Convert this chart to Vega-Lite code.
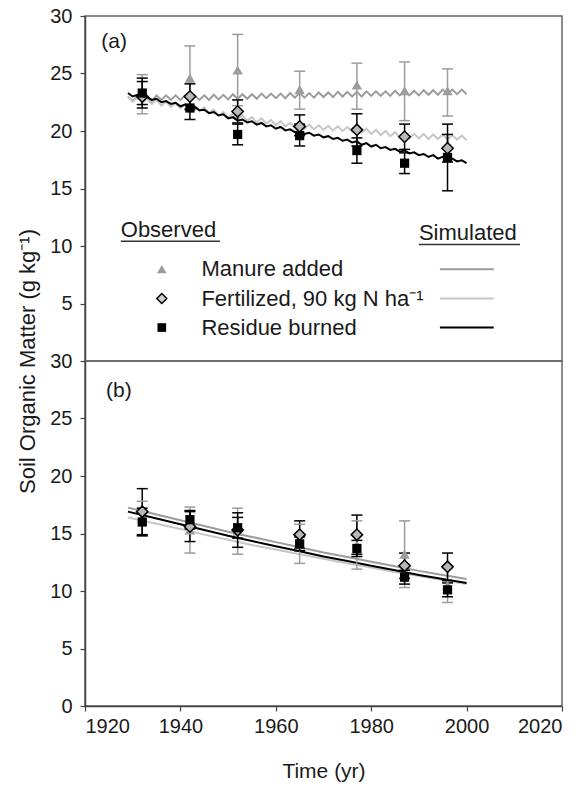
{
"$schema": "https://vega.github.io/schema/vega-lite/v6.json",
"background": "white",
"padding": {"left": 15, "top": 5, "right": 5, "bottom": 5},
"bounds": "flush",
"spacing": 0,
"config": {
  "font": "Liberation Sans",
  "view": {"stroke": "#666666", "strokeWidth": 1.5},
  "axis": {"labelFont": "Liberation Sans", "titleFont": "Liberation Sans", "labelFontSize": 20, "titleFontSize": 21, "titleFontWeight": "normal", "labelColor": "#1a1a1a", "titleColor": "#1a1a1a", "domainColor": "#444444", "tickColor": "#444444", "domainWidth": 1.5, "tickWidth": 1.2, "tickSize": 5, "grid": false, "labelPadding": 5},
  "axisLeft": {"labelPadding": 8},
  "text": {"font": "Liberation Sans", "color": "#1a1a1a"}
},
"datasets": {
  "simA": [
    {"s":"M","x":1929,"y":23.0},{"s":"M","x":1930,"y":22.6},{"s":"M","x":1931,"y":23.0},{"s":"M","x":1932,"y":22.6},{"s":"M","x":1933,"y":23.0},{"s":"M","x":1934,"y":22.6},{"s":"M","x":1935,"y":23.1},{"s":"M","x":1936,"y":22.7},{"s":"M","x":1937,"y":23.1},{"s":"M","x":1938,"y":22.7},{"s":"M","x":1939,"y":23.1},{"s":"M","x":1940,"y":22.7},{"s":"M","x":1941,"y":23.1},{"s":"M","x":1942,"y":22.7},{"s":"M","x":1943,"y":23.1},{"s":"M","x":1944,"y":22.7},{"s":"M","x":1945,"y":23.1},{"s":"M","x":1946,"y":22.7},{"s":"M","x":1947,"y":23.15},{"s":"M","x":1948,"y":22.75},{"s":"M","x":1949,"y":23.15},{"s":"M","x":1950,"y":22.75},{"s":"M","x":1951,"y":23.2},{"s":"M","x":1952,"y":22.8},{"s":"M","x":1953,"y":23.2},{"s":"M","x":1954,"y":22.8},{"s":"M","x":1955,"y":23.2},{"s":"M","x":1956,"y":22.8},{"s":"M","x":1957,"y":23.25},{"s":"M","x":1958,"y":22.85},{"s":"M","x":1959,"y":23.25},{"s":"M","x":1960,"y":22.85},{"s":"M","x":1961,"y":23.25},{"s":"M","x":1962,"y":22.85},{"s":"M","x":1963,"y":23.3},{"s":"M","x":1964,"y":22.9},{"s":"M","x":1965,"y":23.3},{"s":"M","x":1966,"y":22.9},{"s":"M","x":1967,"y":23.3},{"s":"M","x":1968,"y":22.9},{"s":"M","x":1969,"y":23.35},{"s":"M","x":1970,"y":22.95},{"s":"M","x":1971,"y":23.35},{"s":"M","x":1972,"y":22.95},{"s":"M","x":1973,"y":23.4},{"s":"M","x":1974,"y":23.0},{"s":"M","x":1975,"y":23.4},{"s":"M","x":1976,"y":23.0},{"s":"M","x":1977,"y":23.4},{"s":"M","x":1978,"y":23.0},{"s":"M","x":1979,"y":23.45},{"s":"M","x":1980,"y":23.05},{"s":"M","x":1981,"y":23.45},{"s":"M","x":1982,"y":23.05},{"s":"M","x":1983,"y":23.45},{"s":"M","x":1984,"y":23.05},{"s":"M","x":1985,"y":23.5},{"s":"M","x":1986,"y":23.1},{"s":"M","x":1987,"y":23.5},{"s":"M","x":1988,"y":23.1},{"s":"M","x":1989,"y":23.5},{"s":"M","x":1990,"y":23.1},{"s":"M","x":1991,"y":23.55},{"s":"M","x":1992,"y":23.15},{"s":"M","x":1993,"y":23.55},{"s":"M","x":1994,"y":23.15},{"s":"M","x":1995,"y":23.6},{"s":"M","x":1996,"y":23.2},{"s":"M","x":1997,"y":23.6},{"s":"M","x":1998,"y":23.2},{"s":"M","x":1999,"y":23.6},{"s":"M","x":2000,"y":23.2},
    {"s":"F","x":1929,"y":23.0},{"s":"F","x":1930,"y":22.55},{"s":"F","x":1931,"y":22.9},{"s":"F","x":1932,"y":22.45},{"s":"F","x":1933,"y":22.8},{"s":"F","x":1934,"y":22.35},{"s":"F","x":1935,"y":22.7},{"s":"F","x":1936,"y":22.2},{"s":"F","x":1937,"y":22.55},{"s":"F","x":1938,"y":22.1},{"s":"F","x":1939,"y":22.45},{"s":"F","x":1940,"y":22.0},{"s":"F","x":1941,"y":22.35},{"s":"F","x":1942,"y":21.9},{"s":"F","x":1943,"y":22.2},{"s":"F","x":1944,"y":21.7},{"s":"F","x":1945,"y":22.05},{"s":"F","x":1946,"y":21.55},{"s":"F","x":1947,"y":21.85},{"s":"F","x":1948,"y":21.35},{"s":"F","x":1949,"y":21.65},{"s":"F","x":1950,"y":21.2},{"s":"F","x":1951,"y":21.5},{"s":"F","x":1952,"y":21.0},{"s":"F","x":1953,"y":21.35},{"s":"F","x":1954,"y":20.9},{"s":"F","x":1955,"y":21.2},{"s":"F","x":1956,"y":20.75},{"s":"F","x":1957,"y":21.1},{"s":"F","x":1958,"y":20.65},{"s":"F","x":1959,"y":20.95},{"s":"F","x":1960,"y":20.5},{"s":"F","x":1961,"y":20.85},{"s":"F","x":1962,"y":20.4},{"s":"F","x":1963,"y":20.7},{"s":"F","x":1964,"y":20.25},{"s":"F","x":1965,"y":20.6},{"s":"F","x":1966,"y":20.2},{"s":"F","x":1967,"y":20.55},{"s":"F","x":1968,"y":20.15},{"s":"F","x":1969,"y":20.5},{"s":"F","x":1970,"y":20.1},{"s":"F","x":1971,"y":20.45},{"s":"F","x":1972,"y":20.05},{"s":"F","x":1973,"y":20.4},{"s":"F","x":1974,"y":20.0},{"s":"F","x":1975,"y":20.35},{"s":"F","x":1976,"y":19.95},{"s":"F","x":1977,"y":20.3},{"s":"F","x":1978,"y":19.85},{"s":"F","x":1979,"y":20.2},{"s":"F","x":1980,"y":19.75},{"s":"F","x":1981,"y":20.1},{"s":"F","x":1982,"y":19.65},{"s":"F","x":1983,"y":20.0},{"s":"F","x":1984,"y":19.55},{"s":"F","x":1985,"y":19.9},{"s":"F","x":1986,"y":19.45},{"s":"F","x":1987,"y":19.8},{"s":"F","x":1988,"y":19.4},{"s":"F","x":1989,"y":19.75},{"s":"F","x":1990,"y":19.35},{"s":"F","x":1991,"y":19.75},{"s":"F","x":1992,"y":19.3},{"s":"F","x":1993,"y":19.7},{"s":"F","x":1994,"y":19.3},{"s":"F","x":1995,"y":19.7},{"s":"F","x":1996,"y":19.25},{"s":"F","x":1997,"y":19.65},{"s":"F","x":1998,"y":19.25},{"s":"F","x":1999,"y":19.6},{"s":"F","x":2000,"y":19.2},
    {"s":"R","x":1929,"y":23.3},{"s":"R","x":1930,"y":23.0},{"s":"R","x":1931,"y":23.15},{"s":"R","x":1932,"y":22.85},{"s":"R","x":1933,"y":22.95},{"s":"R","x":1934,"y":22.7},{"s":"R","x":1935,"y":22.8},{"s":"R","x":1936,"y":22.5},{"s":"R","x":1937,"y":22.6},{"s":"R","x":1938,"y":22.35},{"s":"R","x":1939,"y":22.45},{"s":"R","x":1940,"y":22.15},{"s":"R","x":1941,"y":22.3},{"s":"R","x":1942,"y":22.0},{"s":"R","x":1943,"y":22.1},{"s":"R","x":1944,"y":21.8},{"s":"R","x":1945,"y":21.85},{"s":"R","x":1946,"y":21.55},{"s":"R","x":1947,"y":21.65},{"s":"R","x":1948,"y":21.35},{"s":"R","x":1949,"y":21.45},{"s":"R","x":1950,"y":21.1},{"s":"R","x":1951,"y":21.2},{"s":"R","x":1952,"y":20.9},{"s":"R","x":1953,"y":21.0},{"s":"R","x":1954,"y":20.75},{"s":"R","x":1955,"y":20.85},{"s":"R","x":1956,"y":20.55},{"s":"R","x":1957,"y":20.7},{"s":"R","x":1958,"y":20.4},{"s":"R","x":1959,"y":20.5},{"s":"R","x":1960,"y":20.2},{"s":"R","x":1961,"y":20.35},{"s":"R","x":1962,"y":20.05},{"s":"R","x":1963,"y":20.15},{"s":"R","x":1964,"y":19.9},{"s":"R","x":1965,"y":20.0},{"s":"R","x":1966,"y":19.75},{"s":"R","x":1967,"y":19.85},{"s":"R","x":1968,"y":19.6},{"s":"R","x":1969,"y":19.7},{"s":"R","x":1970,"y":19.45},{"s":"R","x":1971,"y":19.55},{"s":"R","x":1972,"y":19.3},{"s":"R","x":1973,"y":19.4},{"s":"R","x":1974,"y":19.15},{"s":"R","x":1975,"y":19.25},{"s":"R","x":1976,"y":19.0},{"s":"R","x":1977,"y":19.1},{"s":"R","x":1978,"y":18.8},{"s":"R","x":1979,"y":18.95},{"s":"R","x":1980,"y":18.65},{"s":"R","x":1981,"y":18.8},{"s":"R","x":1982,"y":18.5},{"s":"R","x":1983,"y":18.6},{"s":"R","x":1984,"y":18.35},{"s":"R","x":1985,"y":18.45},{"s":"R","x":1986,"y":18.2},{"s":"R","x":1987,"y":18.3},{"s":"R","x":1988,"y":18.05},{"s":"R","x":1989,"y":18.15},{"s":"R","x":1990,"y":17.9},{"s":"R","x":1991,"y":18.0},{"s":"R","x":1992,"y":17.75},{"s":"R","x":1993,"y":17.9},{"s":"R","x":1994,"y":17.6},{"s":"R","x":1995,"y":17.75},{"s":"R","x":1996,"y":17.5},{"s":"R","x":1997,"y":17.6},{"s":"R","x":1998,"y":17.35},{"s":"R","x":1999,"y":17.45},{"s":"R","x":2000,"y":17.2}
  ],
  "simB": [
    {"s":"M","x":1929,"y":17.25},{"s":"M","x":1935,"y":16.65},{"s":"M","x":1940,"y":16.15},{"s":"M","x":1945,"y":15.65},{"s":"M","x":1950,"y":15.15},{"s":"M","x":1955,"y":14.7},{"s":"M","x":1960,"y":14.25},{"s":"M","x":1965,"y":13.8},{"s":"M","x":1970,"y":13.35},{"s":"M","x":1975,"y":12.95},{"s":"M","x":1980,"y":12.55},{"s":"M","x":1985,"y":12.15},{"s":"M","x":1990,"y":11.75},{"s":"M","x":1995,"y":11.4},{"s":"M","x":2000,"y":11.05},
    {"s":"F","x":1929,"y":16.4},{"s":"F","x":1935,"y":15.85},{"s":"F","x":1940,"y":15.4},{"s":"F","x":1945,"y":14.9},{"s":"F","x":1950,"y":14.45},{"s":"F","x":1955,"y":14.0},{"s":"F","x":1960,"y":13.6},{"s":"F","x":1965,"y":13.2},{"s":"F","x":1970,"y":12.8},{"s":"F","x":1975,"y":12.4},{"s":"F","x":1980,"y":12.05},{"s":"F","x":1985,"y":11.65},{"s":"F","x":1990,"y":11.3},{"s":"F","x":1995,"y":10.95},{"s":"F","x":2000,"y":10.6},
    {"s":"R","x":1929,"y":16.9},{"s":"R","x":1935,"y":16.3},{"s":"R","x":1940,"y":15.8},{"s":"R","x":1945,"y":15.3},{"s":"R","x":1950,"y":14.8},{"s":"R","x":1955,"y":14.35},{"s":"R","x":1960,"y":13.9},{"s":"R","x":1965,"y":13.45},{"s":"R","x":1970,"y":13.0},{"s":"R","x":1975,"y":12.6},{"s":"R","x":1980,"y":12.2},{"s":"R","x":1985,"y":11.8},{"s":"R","x":1990,"y":11.4},{"s":"R","x":1995,"y":11.05},{"s":"R","x":2000,"y":10.7}
  ],
  "obsA": [
    {"s":"M","x":1932,"y":23.2,"lo":21.5,"hi":24.9},{"s":"M","x":1942,"y":24.6,"lo":21.8,"hi":27.4},{"s":"M","x":1952,"y":25.3,"lo":22.2,"hi":28.4},{"s":"M","x":1965,"y":23.6,"lo":21.9,"hi":25.2},{"s":"M","x":1977,"y":24.0,"lo":21.9,"hi":25.9},{"s":"M","x":1987,"y":23.5,"lo":20.9,"hi":26.0},{"s":"M","x":1996,"y":23.5,"lo":21.3,"hi":25.4},
    {"s":"F","x":1932,"y":23.0,"lo":22.3,"hi":24.3},{"s":"F","x":1942,"y":23.0,"lo":21.9,"hi":24.1},{"s":"F","x":1952,"y":21.7,"lo":20.7,"hi":22.7},{"s":"F","x":1965,"y":20.4,"lo":19.6,"hi":21.4},{"s":"F","x":1977,"y":20.1,"lo":18.7,"hi":21.5},{"s":"F","x":1987,"y":19.5,"lo":18.4,"hi":20.6},{"s":"F","x":1996,"y":18.5,"lo":17.3,"hi":19.7},
    {"s":"R","x":1932,"y":23.3,"lo":22.0,"hi":24.6},{"s":"R","x":1942,"y":22.0,"lo":21.0,"hi":23.0},{"s":"R","x":1952,"y":19.7,"lo":18.8,"hi":20.6},{"s":"R","x":1965,"y":19.6,"lo":18.7,"hi":20.6},{"s":"R","x":1977,"y":18.3,"lo":17.2,"hi":19.4},{"s":"R","x":1987,"y":17.2,"lo":16.3,"hi":18.1},{"s":"R","x":1996,"y":17.7,"lo":14.8,"hi":20.6}
  ],
  "obsB": [
    {"s":"M","x":1932,"y":16.3,"lo":14.8,"hi":17.8},{"s":"M","x":1942,"y":15.3,"lo":13.3,"hi":17.3},{"s":"M","x":1952,"y":15.2,"lo":13.2,"hi":17.2},{"s":"M","x":1965,"y":14.1,"lo":12.4,"hi":15.8},{"s":"M","x":1977,"y":14.0,"lo":11.9,"hi":16.1},{"s":"M","x":1987,"y":13.2,"lo":10.3,"hi":16.1},{"s":"M","x":1996,"y":10.5,"lo":9.0,"hi":12.0},
    {"s":"F","x":1932,"y":16.9,"lo":14.9,"hi":18.9},{"s":"F","x":1942,"y":15.6,"lo":14.3,"hi":16.9},{"s":"F","x":1952,"y":15.3,"lo":13.8,"hi":16.8},{"s":"F","x":1965,"y":14.9,"lo":13.7,"hi":16.1},{"s":"F","x":1977,"y":14.9,"lo":13.2,"hi":16.6},{"s":"F","x":1987,"y":12.2,"lo":11.1,"hi":13.3},{"s":"F","x":1996,"y":12.1,"lo":10.9,"hi":13.3},
    {"s":"R","x":1932,"y":16.0,"lo":14.8,"hi":17.2},{"s":"R","x":1942,"y":16.2,"lo":15.4,"hi":17.0},{"s":"R","x":1952,"y":15.5,"lo":14.6,"hi":16.4},{"s":"R","x":1965,"y":14.1,"lo":13.5,"hi":14.7},{"s":"R","x":1977,"y":13.7,"lo":13.0,"hi":14.4},{"s":"R","x":1987,"y":11.2,"lo":10.6,"hi":11.8},{"s":"R","x":1996,"y":10.1,"lo":9.5,"hi":10.7}
  ],
  "legSym": [
    {"s":"M","x":1936.1,"y":7.98,"label":"Manure added","lx":1994.4,"lx2":2005.7},
    {"s":"F","x":1936.1,"y":5.43,"label":"Fertilized, 90 kg N ha⁻¹","lx":1994.4,"lx2":2005.7},
    {"s":"R","x":1936.1,"y":2.91,"label":"Residue burned","lx":1994.4,"lx2":2005.7}
  ],
  "heads": [
    {"t":"Observed","x":1927.5,"x2":1948.3,"y":11.37,"uy":10.42},
    {"t":"Simulated","x":1990.0,"x2":2011.2,"y":11.09,"uy":10.13}
  ],
  "tagA": [{"t":"(a)","x":1923.4,"y":27.7}],
  "tagB": [{"t":"(b)","x":1924.4,"y":27.4}]
},
"vconcat": [
  {
    "width": 477, "height": 345,
    "layer": [
      {"data": {"name": "simA"}, "mark": {"type": "line", "strokeWidth": 2},
       "encoding": {
         "x": {"field": "x", "type": "quantitative", "scale": {"domain": [1920, 2020]}, "axis": null},
         "y": {"field": "y", "type": "quantitative", "scale": {"domain": [0, 30]},
               "axis": {"values": [5, 10, 15, 20, 25, 30], "title": "Soil Organic Matter (g kg⁻¹)", "titleFontSize": 22, "titleX": -58, "titleY": 345, "titleAngle": 270, "titleBaseline": "middle", "titleAlign": "center"}},
         "color": {"field": "s", "type": "nominal", "scale": {"domain": ["M", "F", "R"], "range": ["#9c9c9c", "#c6c6c6", "#000000"]}, "legend": null},
         "order": {"field": "x", "type": "quantitative"}}},
      {"data": {"name": "obsA"}, "mark": {"type": "rule", "strokeWidth": 1.5},
       "encoding": {
         "x": {"field": "x", "type": "quantitative"},
         "y": {"field": "lo", "type": "quantitative"}, "y2": {"field": "hi"},
         "color": {"condition": {"test": "datum.s === 'M'", "value": "#9c9c9c"}, "value": "#000000"}}},
      {"data": {"name": "obsA"}, "transform": [{"fold": ["lo", "hi"], "as": ["k", "v"]}],
       "mark": {"type": "tick", "orient": "horizontal", "size": 11, "thickness": 1.5, "opacity": 1},
       "encoding": {
         "x": {"field": "x", "type": "quantitative"},
         "y": {"field": "v", "type": "quantitative"},
         "color": {"condition": {"test": "datum.s === 'M'", "value": "#9c9c9c"}, "value": "#000000"}}},
      {"data": {"name": "obsA"}, "transform": [{"filter": "datum.s === 'M'"}],
       "mark": {"type": "point", "shape": "triangle-up", "filled": true, "color": "#9c9c9c", "size": 110, "opacity": 1},
       "encoding": {"x": {"field": "x", "type": "quantitative"}, "y": {"field": "y", "type": "quantitative"}}},
      {"data": {"name": "obsA"}, "transform": [{"filter": "datum.s === 'F'"}],
       "mark": {"type": "point", "shape": "diamond", "filled": true, "fill": "#b8b8b8", "stroke": "#000000", "strokeWidth": 1.5, "size": 130, "opacity": 1},
       "encoding": {"x": {"field": "x", "type": "quantitative"}, "y": {"field": "y", "type": "quantitative"}}},
      {"data": {"name": "obsA"}, "transform": [{"filter": "datum.s === 'R'"}],
       "mark": {"type": "square", "color": "#000000", "size": 85, "opacity": 1},
       "encoding": {"x": {"field": "x", "type": "quantitative"}, "y": {"field": "y", "type": "quantitative"}}},
      {"data": {"name": "legSym"}, "transform": [{"filter": "datum.s === 'M'"}],
       "mark": {"type": "point", "shape": "triangle-up", "filled": true, "color": "#9c9c9c", "size": 90, "opacity": 1},
       "encoding": {"x": {"field": "x", "type": "quantitative"}, "y": {"field": "y", "type": "quantitative"}}},
      {"data": {"name": "legSym"}, "transform": [{"filter": "datum.s === 'F'"}],
       "mark": {"type": "point", "shape": "diamond", "filled": true, "fill": "#d0d0d0", "stroke": "#000000", "strokeWidth": 1.5, "size": 100, "opacity": 1},
       "encoding": {"x": {"field": "x", "type": "quantitative"}, "y": {"field": "y", "type": "quantitative"}}},
      {"data": {"name": "legSym"}, "transform": [{"filter": "datum.s === 'R'"}],
       "mark": {"type": "square", "color": "#000000", "size": 75, "opacity": 1},
       "encoding": {"x": {"field": "x", "type": "quantitative"}, "y": {"field": "y", "type": "quantitative"}}},
      {"data": {"name": "legSym"},
       "mark": {"type": "text", "align": "left", "baseline": "middle", "fontSize": 22},
       "encoding": {"x": {"datum": 1944.4, "type": "quantitative"}, "y": {"field": "y", "type": "quantitative"}, "text": {"field": "label"}}},
      {"data": {"name": "legSym"},
       "mark": {"type": "rule", "strokeWidth": 2},
       "encoding": {"x": {"field": "lx", "type": "quantitative"}, "x2": {"field": "lx2"}, "y": {"field": "y", "type": "quantitative"},
         "color": {"field": "s", "type": "nominal", "legend": null}}},
      {"data": {"name": "heads"},
       "mark": {"type": "text", "align": "left", "baseline": "middle", "fontSize": 22},
       "encoding": {"x": {"field": "x", "type": "quantitative"}, "y": {"field": "y", "type": "quantitative"}, "text": {"field": "t"}}},
      {"data": {"name": "heads"},
       "mark": {"type": "rule", "strokeWidth": 1.5, "color": "#333333"},
       "encoding": {"x": {"field": "x", "type": "quantitative"}, "x2": {"field": "x2"}, "y": {"field": "uy", "type": "quantitative"}}},
      {"data": {"name": "tagA"},
       "mark": {"type": "text", "align": "left", "baseline": "middle", "fontSize": 21},
       "encoding": {"x": {"field": "x", "type": "quantitative"}, "y": {"field": "y", "type": "quantitative"}, "text": {"field": "t"}}}
    ]
  },
  {
    "width": 477, "height": 345,
    "layer": [
      {"data": {"name": "simB"}, "mark": {"type": "line", "strokeWidth": 2},
       "encoding": {
         "x": {"field": "x", "type": "quantitative", "scale": {"domain": [1920, 2020]},
               "axis": {"values": [1920, 1940, 1960, 1980, 2000, 2020], "format": "d", "title": "Time (yr)", "titlePadding": 24}},
         "y": {"field": "y", "type": "quantitative", "scale": {"domain": [0, 30]},
               "axis": {"values": [0, 5, 10, 15, 20, 25, 30], "title": null}},
         "color": {"field": "s", "type": "nominal", "scale": {"domain": ["M", "F", "R"], "range": ["#9c9c9c", "#c6c6c6", "#000000"]}, "legend": null},
         "order": {"field": "x", "type": "quantitative"}}},
      {"data": {"name": "obsB"}, "mark": {"type": "rule", "strokeWidth": 1.5},
       "encoding": {
         "x": {"field": "x", "type": "quantitative"},
         "y": {"field": "lo", "type": "quantitative"}, "y2": {"field": "hi"},
         "color": {"condition": {"test": "datum.s === 'M'", "value": "#9c9c9c"}, "value": "#000000"}}},
      {"data": {"name": "obsB"}, "transform": [{"fold": ["lo", "hi"], "as": ["k", "v"]}],
       "mark": {"type": "tick", "orient": "horizontal", "size": 11, "thickness": 1.5, "opacity": 1},
       "encoding": {
         "x": {"field": "x", "type": "quantitative"},
         "y": {"field": "v", "type": "quantitative"},
         "color": {"condition": {"test": "datum.s === 'M'", "value": "#9c9c9c"}, "value": "#000000"}}},
      {"data": {"name": "obsB"}, "transform": [{"filter": "datum.s === 'M'"}],
       "mark": {"type": "point", "shape": "triangle-up", "filled": true, "color": "#9c9c9c", "size": 110, "opacity": 1},
       "encoding": {"x": {"field": "x", "type": "quantitative"}, "y": {"field": "y", "type": "quantitative"}}},
      {"data": {"name": "obsB"}, "transform": [{"filter": "datum.s === 'F'"}],
       "mark": {"type": "point", "shape": "diamond", "filled": true, "fill": "#b8b8b8", "stroke": "#000000", "strokeWidth": 1.5, "size": 130, "opacity": 1},
       "encoding": {"x": {"field": "x", "type": "quantitative"}, "y": {"field": "y", "type": "quantitative"}}},
      {"data": {"name": "obsB"}, "transform": [{"filter": "datum.s === 'R'"}],
       "mark": {"type": "square", "color": "#000000", "size": 85, "opacity": 1},
       "encoding": {"x": {"field": "x", "type": "quantitative"}, "y": {"field": "y", "type": "quantitative"}}},
      {"data": {"name": "tagB"},
       "mark": {"type": "text", "align": "left", "baseline": "middle", "fontSize": 21},
       "encoding": {"x": {"field": "x", "type": "quantitative"}, "y": {"field": "y", "type": "quantitative"}, "text": {"field": "t"}}}
    ]
  }
]
}
